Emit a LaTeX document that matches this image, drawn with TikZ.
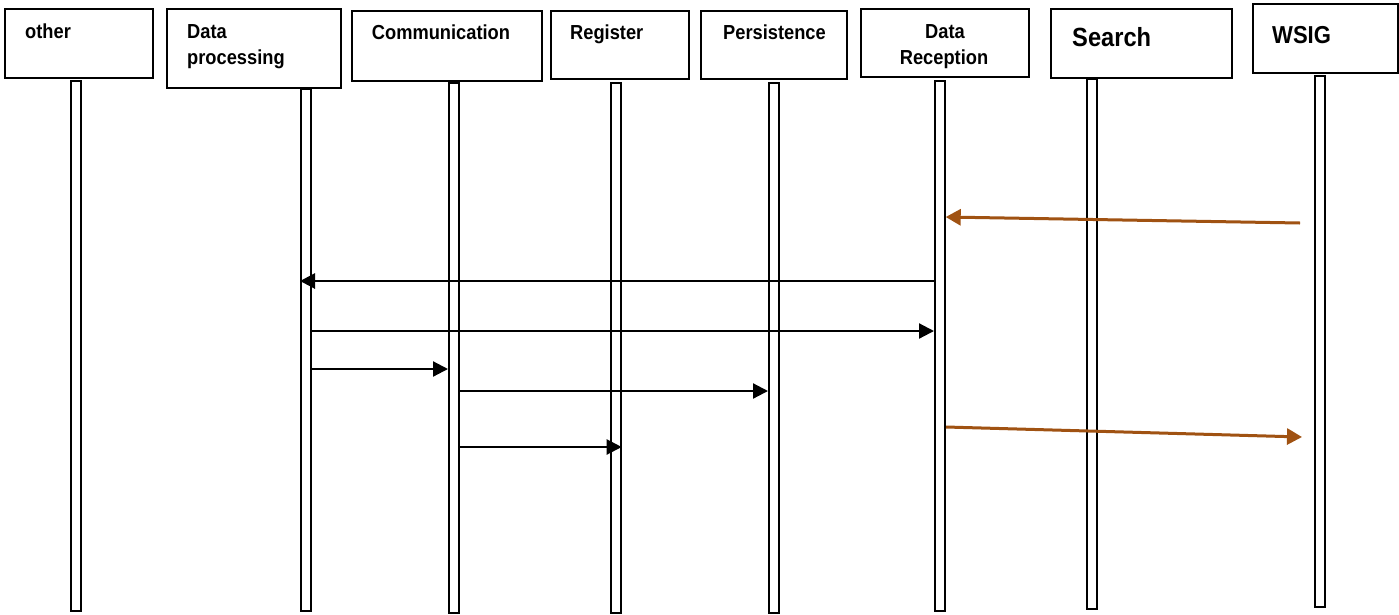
\documentclass[tikz,border=0pt]{standalone}
\usepackage{fontspec}
\setmainfont[FakeStretch=0.9]{Liberation Sans}
\usetikzlibrary{arrows.meta,calc}
\definecolor{arrbrown}{RGB}{160,82,18}
\begin{document}
\begin{tikzpicture}[x=1pt,y=-1pt,
  hbox/.style={draw,line width=1.8pt,anchor=north west,inner sep=0pt},
  life/.style={draw,line width=1.7pt,anchor=north west,inner sep=0pt,minimum width=10pt},
  lbl/.style={inner sep=0pt,anchor=base west,font=\bfseries\fontsize{20.3}{24}\selectfont},
  clbl/.style={inner sep=0pt,anchor=base,font=\bfseries\fontsize{20.3}{24}\selectfont},
  biglbl/.style={inner sep=0pt,anchor=base west,font=\bfseries\fontsize{26.3}{30}\selectfont},
  msg/.style={line width=2.2pt,-{Triangle[length=15pt,width=15pt]}},
  bmsg/.style={line width=3pt,draw=arrbrown,-{Triangle[length=15pt,width=16pt]},fill=arrbrown}
]
\useasboundingbox (0,0) rectangle (1399,614);
% header boxes
\node[hbox,minimum width=148pt,minimum height=69pt] (bOther) at (4,8) {};
\node[hbox,minimum width=174pt,minimum height=79pt] (bDP) at (166,8) {};
\node[hbox,minimum width=190pt,minimum height=70pt] (bComm) at (351,10) {};
\node[hbox,minimum width=138pt,minimum height=68pt] (bReg) at (550,10) {};
\node[hbox,minimum width=146pt,minimum height=68pt] (bPers) at (700,10) {};
\node[hbox,minimum width=168pt,minimum height=68pt] (bDR) at (860,8) {};
\node[hbox,minimum width=181pt,minimum height=69pt] (bSearch) at (1050,8) {};
\node[hbox,minimum width=145pt,minimum height=69pt] (bWSIG) at (1252,3) {};
% header texts
\node[lbl] (tOther) at (25,38) {other};
\node[lbl] (tDP1) at (187,38) {Data};
\node[lbl] (tDP2) at (187,64) {processing};
\node[clbl] (tComm) at (441,39.5) {Communication};
\node[lbl] (tReg) at (570,39.5) {Register};
\node[lbl] (tPers) at (723,39.5) {Persistence};
\node[clbl] (tDR1) at (945,38) {Data};
\node[clbl] (tDR2) at (944,64) {Reception};
\node[biglbl] (tSearch) at (1072,46) {Search};
\node[biglbl,font=\bfseries\fontsize{24.5}{28}\selectfont] (tWSIG) at (1272,43) {WSIG};
% lifelines
\node[life,minimum height=530pt] (lOther) at (70,80) {};
\node[life,minimum height=522pt] (lDP) at (300,88) {};
\node[life,minimum height=530pt] (lComm) at (448,82) {};
\node[life,minimum height=530pt] (lReg) at (610,82) {};
\node[life,minimum height=530pt] (lPers) at (768,82) {};
\node[life,minimum height=530pt] (lDR) at (934,80) {};
\node[life,minimum height=530pt] (lSearch) at (1086,78) {};
\node[life,minimum height=531pt] (lWSIG) at (1314,75) {};
% free ends
\coordinate (w1) at (1300,223);
\coordinate (w2) at (1302,437);
\coordinate (r1) at (946,427);
% messages
\draw[bmsg] (w1) -- (lDR.east |- 0,217);
\draw[msg,line width=2.8pt] (lDR.west |- 0,281) -- (lDP.west |- 0,281);
\draw[msg] (lDP.east |- 0,331) -- (lDR.west |- 0,331);
\draw[msg] (lDP.east |- 0,369) -- (lComm.west |- 0,369);
\draw[msg] (lComm.east |- 0,391) -- (lPers.west |- 0,391);
\draw[msg] (lComm.east |- 0,447) -- (lReg.east |- 0,447);
\draw[bmsg] (r1) -- (w2);
\end{tikzpicture}
\end{document}
